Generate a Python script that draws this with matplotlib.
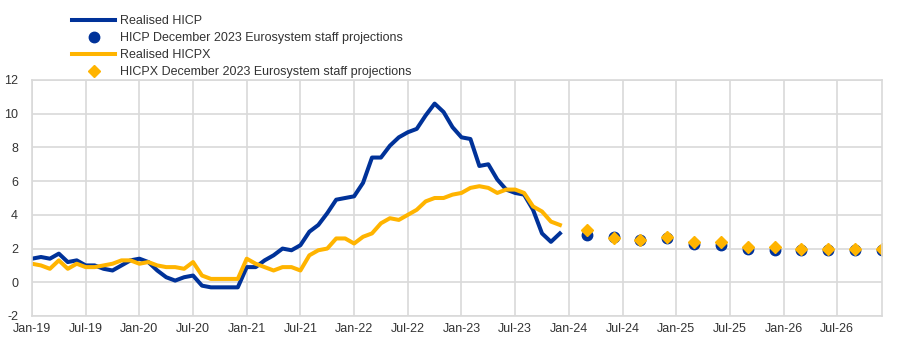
import numpy as np
import pandas as pd
import matplotlib
matplotlib.use("Agg")
import matplotlib.pyplot as plt

plt.rcParams["font.family"] = ["Liberation Sans", "DejaVu Sans"]
plt.rcParams["axes.unicode_minus"] = False

# realised annual rates, Jan-19 .. Dec-23 (percentages)
hicp = [1.4, 1.5, 1.4, 1.7, 1.2, 1.3, 1.0, 1.0, 0.8, 0.7, 1.0, 1.3,
        1.4, 1.2, 0.7, 0.3, 0.1, 0.3, 0.4, -0.2, -0.3, -0.3, -0.3, -0.3,
        0.9, 0.9, 1.3, 1.6, 2.0, 1.9, 2.2, 3.0, 3.4, 4.1, 4.9, 5.0,
        5.1, 5.9, 7.4, 7.4, 8.1, 8.6, 8.9, 9.1, 9.9, 10.6, 10.1, 9.2,
        8.6, 8.5, 6.9, 7.0, 6.1, 5.5, 5.3, 5.2, 4.3, 2.9, 2.4, 2.9]
hicpx = [1.1, 1.0, 0.8, 1.3, 0.8, 1.1, 0.9, 0.9, 1.0, 1.1, 1.3, 1.3,
         1.1, 1.2, 1.0, 0.9, 0.9, 0.8, 1.2, 0.4, 0.2, 0.2, 0.2, 0.2,
         1.4, 1.1, 0.9, 0.7, 0.9, 0.9, 0.7, 1.6, 1.9, 2.0, 2.6, 2.6,
         2.3, 2.7, 2.9, 3.5, 3.8, 3.7, 4.0, 4.3, 4.8, 5.0, 5.0, 5.2,
         5.3, 5.6, 5.7, 5.6, 5.3, 5.5, 5.5, 5.3, 4.5, 4.2, 3.6, 3.4]

# quarterly projections, Q1-24 .. Q4-26
hicp_proj = [2.8, 2.7, 2.5, 2.6, 2.3, 2.2, 2.0, 1.9, 1.9, 1.9, 1.9, 1.9]
hicpx_proj = [3.1, 2.6, 2.5, 2.7, 2.4, 2.4, 2.1, 2.1, 2.0, 2.0, 2.0, 2.0]

months = pd.period_range("2019-01", "2026-12", freq="M")
pos = np.arange(len(months))
tick_pos = pos[::6]
tick_labels = [m.strftime("%b-%y") for m in months[::6]]

# projections sit at the last month of each quarter
quarters = pd.period_range("2024Q1", "2026Q4", freq="Q")
q_pos = [months.get_loc(q.asfreq("M", how="end")) for q in quarters]

blue = "#003299"
yellow = "#ffb400"
grid = "#d9d9d9"
text = "#333333"

fig = plt.figure(figsize=(9.17, 3.43), dpi=100)
ax = fig.add_axes([32 / 917, 1 - 316 / 343, 850 / 917, 236 / 343])

ax.plot(pos[:len(hicp)], hicp, color=blue, lw=2.9, label="Realised HICP")
ax.plot(q_pos, hicp_proj, "o", color=blue, ms=7.5, ls="none",
        label="HICP December 2023 Eurosystem staff projections")
ax.plot(pos[:len(hicpx)], hicpx, color=yellow, lw=2.9, label="Realised HICPX")
ax.plot(q_pos, hicpx_proj, "D", color=yellow, ms=6.5, ls="none",
        label="HICPX December 2023 Eurosystem staff projections")

ax.set_xlim(0, 95)
ax.set_ylim(-2, 12)
ax.set_yticks(range(-2, 13, 2))
ax.set_xticks(tick_pos)
ax.set_xticklabels(tick_labels)
ax.grid(True, color=grid, lw=1.2)
ax.set_axisbelow(True)
for s in ax.spines.values():
    s.set_color(grid)
    s.set_linewidth(1.2)
ax.tick_params(length=0, labelsize=9, labelcolor=text, pad=5)
ax.tick_params(axis="y", pad=10)

leg = ax.legend(loc="upper left", bbox_to_anchor=(72 / 917, 1 - 15 / 343),
                bbox_transform=fig.transFigure, frameon=False, fontsize=9,
                handlelength=3.45, handletextpad=0.35, labelspacing=0.4,
                borderaxespad=0, borderpad=0)
for t in leg.get_texts():
    t.set_color(text)

fig.savefig("out.png", dpi=100)
